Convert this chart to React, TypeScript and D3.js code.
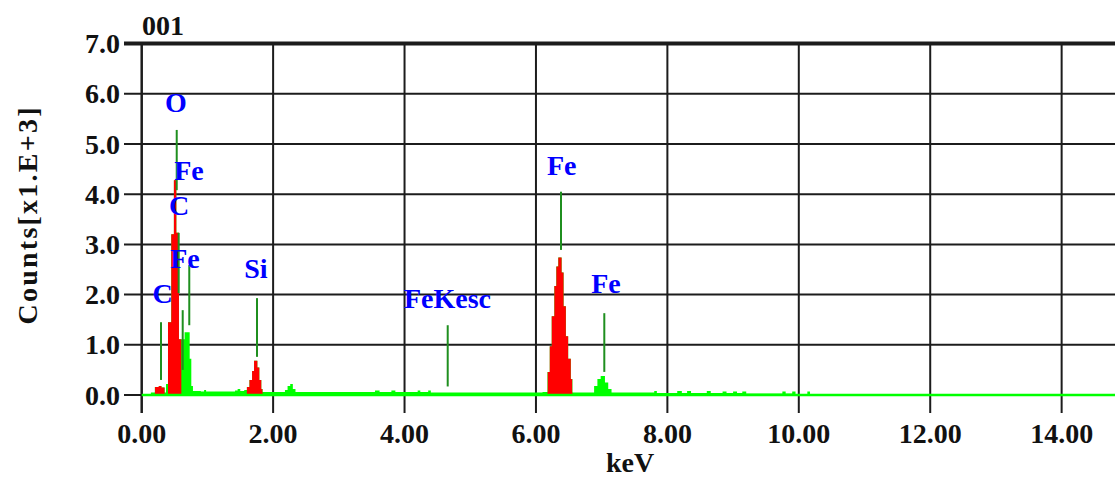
import React from "react";
import * as d3 from "d3";

// ---- data ----
const spectrumKeV = [
  0.0, 0.08, 0.14, 0.2, 0.26, 0.3, 0.35, 0.37, 0.4, 0.45, 0.49, 0.527, 0.567, 0.603, 0.653, 0.73, 0.755, 0.78,
  0.9, 0.95, 0.98, 1.2, 1.42, 1.46, 1.5, 1.56, 1.6, 1.64, 1.68, 1.71, 1.76, 1.79, 1.82, 1.84,
  2.18, 2.22, 2.26, 2.3, 2.34, 3.55, 3.62, 3.8, 3.86, 4.2, 4.24, 4.36, 4.4,
  6.1, 6.175, 6.21, 6.24, 6.28, 6.31, 6.34, 6.39, 6.42, 6.455, 6.49, 6.53, 6.555,
  6.885, 6.935, 6.985, 7.05, 7.1, 7.15,
  7.8, 7.84, 8.15, 8.22, 8.3, 8.36, 8.6, 8.66, 8.84, 8.9, 9.0, 9.06, 9.14, 9.2,
  9.75, 9.8, 9.9, 9.95, 10.13, 10.17, 10.4, 14.81,
];
const spectrumCounts = [
  0.0, 0.02, 0.05, 0.16, 0.18, 0.15, 0.05, 0.22, 1.45, 3.2, 4.28, 3.23, 1.11, 1.11, 1.25, 0.72, 0.18, 0.08,
  0.07, 0.1, 0.07, 0.07, 0.09, 0.12, 0.08, 0.1, 0.16, 0.3, 0.48, 0.68, 0.55, 0.3, 0.12, 0.06,
  0.1, 0.18, 0.22, 0.12, 0.06, 0.09, 0.06, 0.09, 0.06, 0.09, 0.06, 0.09, 0.05,
  0.06, 0.46, 0.97, 1.57, 2.17, 2.56, 2.74, 2.44, 1.77, 1.17, 0.72, 0.32, 0.05,
  0.18, 0.32, 0.38, 0.25, 0.12, 0.05,
  0.08, 0.04, 0.08, 0.04, 0.08, 0.04, 0.08, 0.04, 0.07, 0.04, 0.07, 0.04, 0.07, 0.03,
  0.07, 0.03, 0.07, 0.02, 0.07, 0.01, 0.0, 0.0,
];
// identified peak regions (filled red)
const roiStart = [0.2, 0.4, 1.6, 6.175];
const roiEnd = [0.35, 0.603, 1.84, 6.555];

// KLM marker lines: energy, top, bottom (counts x1000)
const markerKeV = [0.533, 0.563, 0.624, 0.724, 0.294, 1.755, 4.657, 6.381, 7.04];
const markerTop = [5.28, 3.23, 1.69, 2.59, 1.45, 1.93, 1.39, 4.05, 1.63];
const markerBottom = [4.08, 2.03, 0.5, 1.39, 0.3, 0.76, 0.17, 2.89, 0.46];

// peak labels: text, energy (center), height (baseline, counts x1000)
const labelText = ["O", "Fe", "C", "Fe", "C", "Si", "FeKesc", "Fe", "Fe"];
const labelKeV = [0.522, 0.72, 0.568, 0.659, 0.317, 1.739, 4.654, 6.392, 7.066];
const labelHeight = [5.64, 4.28, 3.59, 2.53, 1.83, 2.33, 1.73, 4.38, 2.03];

const xTicks = [0, 2, 4, 6, 8, 10, 12, 14];
const yTicks = [0, 1, 2, 3, 4, 5, 6, 7];

const W = 1115;
const H = 479;
const FONT = "'Liberation Serif', 'Times New Roman', serif";

export default function App() {
  const x0 = 141.7;
  const pxPerKeV = 65.71;
  const xMax = (W - x0) / pxPerKeV;
  const x = d3.scaleLinear().domain([0, xMax]).range([x0, W]);
  const y = d3.scaleLinear().domain([0, 7]).range([395, 43.6]);

  const pts = spectrumKeV.map((k, i) => [k, spectrumCounts[i]] as [number, number]);
  const area = d3
    .area<[number, number]>()
    .x((d) => x(d[0]))
    .y0(y(0))
    .y1((d) => y(d[1]))
    .curve(d3.curveStepAfter);
  const areaPath = area(pts) || "";

  const gridColor = "#1c1c1c";
  const bottomTick = 413;
  const leftTick = 124;

  return (
    <svg
      width={W}
      height={H}
      style={{ position: "fixed", left: 0, top: 0, background: "#fff" }}
      fontFamily={FONT}
      fontWeight="bold"
    >
      <defs>
        {roiStart.map((s, i) => (
          <clipPath id={`roi${i}`} key={i}>
            <rect x={x(s)} y={0} width={x(roiEnd[i]) - x(s)} height={H} />
          </clipPath>
        ))}
      </defs>
      <rect width={W} height={H} fill="#fff" />

      {/* horizontal grid + y ticks */}
      {yTicks.map((t) => (
        <line
          key={`h${t}`}
          x1={leftTick}
          x2={W}
          y1={y(t)}
          y2={y(t)}
          stroke={gridColor}
          strokeWidth={t === 7 ? 4 : 2}
        />
      ))}
      {/* vertical grid + x ticks */}
      {xTicks.map((t) => (
        <line
          key={`v${t}`}
          x1={x(t)}
          x2={x(t)}
          y1={y(7)}
          y2={bottomTick}
          stroke={gridColor}
          strokeWidth={t === 0 ? 2.5 : 2}
        />
      ))}

      {/* spectrum */}
      <path d={areaPath} fill="#00ff00" />
      {roiStart.map((s, i) => (
        <path key={`r${i}`} d={areaPath} fill="#ff0000" clipPath={`url(#roi${i})`} />
      ))}
      <line x1={x(0)} x2={W} y1={y(0)} y2={y(0)} stroke="#00ff00" strokeWidth={2.5} />

      {/* marker lines */}
      {markerKeV.map((k, i) => (
        <line
          key={`m${i}`}
          x1={x(k)}
          x2={x(k)}
          y1={y(markerTop[i])}
          y2={y(markerBottom[i])}
          stroke="#1f8f1f"
          strokeWidth={2}
        />
      ))}

      {/* peak labels */}
      {labelText.map((t, i) => (
        <text
          key={`l${i}`}
          x={x(labelKeV[i])}
          y={y(labelHeight[i])}
          textAnchor="middle"
          fill="#0000ff"
          fontSize={28}
        >
          {t}
        </text>
      ))}

      {/* y tick labels */}
      {yTicks.map((t) => (
        <text
          key={`yl${t}`}
          x={120}
          y={y(t)}
          dy="0.34em"
          textAnchor="end"
          fontSize={28}
          fill="#111"
        >
          {t.toFixed(1)}
        </text>
      ))}
      {/* x tick labels */}
      {xTicks.map((t) => (
        <text key={`xl${t}`} x={x(t)} y={443} textAnchor="middle" fontSize={28} fill="#111">
          {t.toFixed(2)}
        </text>
      ))}

      <text x={142} y={35} fontSize={28} fill="#111">
        001
      </text>
      <text x={630} y={472} textAnchor="middle" fontSize={28} fill="#111">
        keV
      </text>
      <text
        transform="translate(37,216) rotate(-90)"
        textAnchor="middle"
        fontSize={28}
        fill="#111"
        textLength={217}
        lengthAdjust="spacing"
      >
        Counts[x1.E+3]
      </text>
    </svg>
  );
}
